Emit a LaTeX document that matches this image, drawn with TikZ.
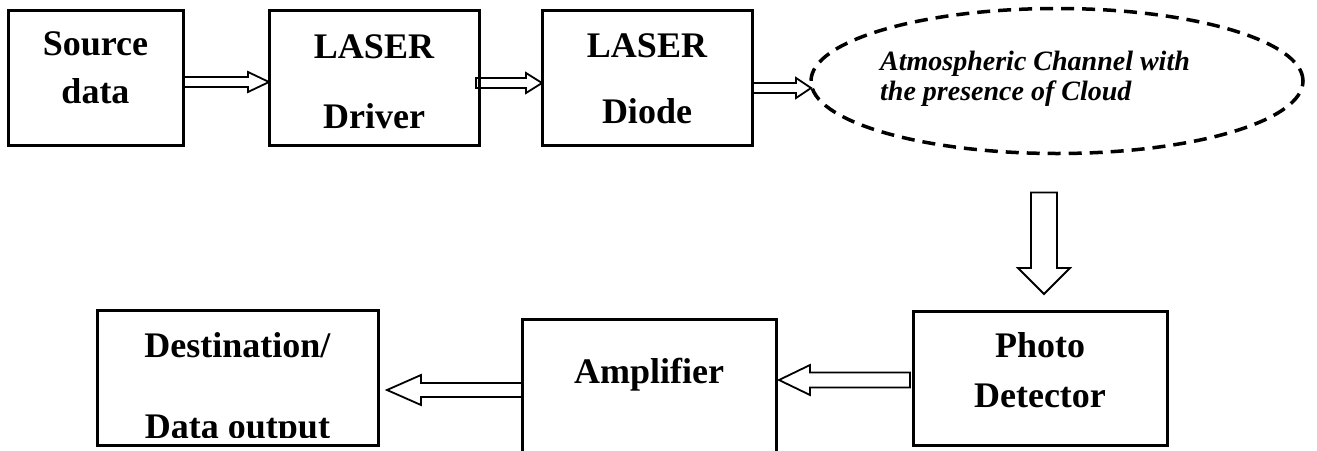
\documentclass[tikz,border=0pt]{standalone}
\usepackage{fontspec}
\setmainfont{Liberation Serif}
\usetikzlibrary{calc,shapes.geometric}
\tikzset{
  box/.style={draw, line width=3pt, rectangle, inner sep=0pt, outer sep=0pt},
  txt/.style={font=\fontsize{36}{36}\selectfont\bfseries, inner sep=0pt, anchor=base},
  itxt/.style={font=\fontsize{28}{28}\selectfont\bfseries\itshape, inner sep=0pt, anchor=base west},
  cloudshape/.style={draw, ellipse, dash pattern=on 13pt off 8pt, line width=3.5pt, inner sep=0pt, outer sep=0pt},
  blockarrow/.style={draw, line width=1.8pt, line join=miter},
}
% horizontal hollow block arrow: #1 start, #2 end (tip x), #3 half shaft, #4 half head, #5 head length
\newcommand\hblock[5]{%
 \draw[blockarrow] let \p1=(#1), \p2=(#2), \n1={sign(\x2-\x1)} in
  (\x1,{\y1+#3}) -- ({\x2-\n1*#5},{\y1+#3}) -- ({\x2-\n1*#5},{\y1+#4}) -- (\x2,\y1)
  -- ({\x2-\n1*#5},{\y1-#4}) -- ({\x2-\n1*#5},{\y1-#3}) -- (\x1,{\y1-#3}) -- cycle;}
% vertical hollow block arrow
\newcommand\vblock[5]{%
 \draw[blockarrow] let \p1=(#1), \p2=(#2), \n1={sign(\y2-\y1)} in
  ({\x1+#3},\y1) -- ({\x1+#3},{\y2-\n1*#5}) -- ({\x1+#4},{\y2-\n1*#5}) -- (\x1,\y2)
  -- ({\x1-#4},{\y2-\n1*#5}) -- ({\x1-#3},{\y2-\n1*#5}) -- ({\x1-#3},\y1) -- cycle;}
\begin{document}
\begin{tikzpicture}[x=1pt,y=-1pt]
\useasboundingbox (0,0) rectangle (1317,450);
\clip (0,0) rectangle (1317,450);
\fill[white] (0,0) rectangle (1317,450);

% boxes
\node[box, minimum width=175pt, minimum height=135pt] (src) at (95.5,77.5) {};
\node[box, minimum width=210pt, minimum height=135pt] (drv) at (374,77.5) {};
\node[box, minimum width=210pt, minimum height=135pt] (dio) at (647,77.5) {};
\node[cloudshape, minimum width=492pt, minimum height=145pt] (cloud) at (1057,81) {};
\node[box, minimum width=254pt, minimum height=134pt] (pd) at (1040,378) {};
\node[box, minimum width=254pt, minimum height=160pt] (amp) at (649,399) {};
\node[box, minimum width=281pt, minimum height=135pt] (dst) at (237.5,377.5) {};

% texts
\node[txt] (srcT1) at (95.5,55) {Source};
\node[txt] (srcT2) at (95.5,103) {data};
\node[txt] (drvT1) at (374,58) {LASER};
\node[txt] (drvT2) at (374,128) {Driver};
\node[txt] (dioT1) at (647,57) {LASER};
\node[txt] (dioT2) at (647,123) {Diode};
\node[itxt] (cloudT1) at (880,70) {Atmospheric Channel with};
\node[itxt] (cloudT2) at (880,100) {the presence of Cloud};
\node[txt] (pdT1) at (1040,357) {Photo};
\node[txt] (pdT2) at (1040,407) {Detector};
\node[txt] (ampT) at (649,383) {Amplifier};
\node[txt] (dstT1) at (237.5,357) {Destination/};
\begin{scope}
  \clip (100,400) rectangle (376,437);
  \node[txt] (dstT2) at (237.5,438) {Data output};
\end{scope}

% connectors
\hblock{$(src.east)+(0,4.5)$}{drv.west}{5pt}{10pt}{21pt}
\hblock{$(drv.east)+(-3,5.5)$}{dio.west}{5pt}{10pt}{16pt}
\hblock{$(dio.east)+(0,10.5)$}{cloud.west}{5pt}{10pt}{15pt}
\coordinate (dA) at ($(cloud.south)+(-13,39)$);
\coordinate (dB) at ($(pd.north)+(4,-17)$);
\vblock{dA}{dB}{13pt}{26pt}{26pt}
\hblock{$(pd.west)+(-3,2)$}{$(amp.east)+(3,0)$}{7.5pt}{15pt}{31pt}
\hblock{$(amp.west)+(0,-9)$}{$(dst.east)+(9,0)$}{7pt}{15pt}{34pt}
\end{tikzpicture}
\end{document}
